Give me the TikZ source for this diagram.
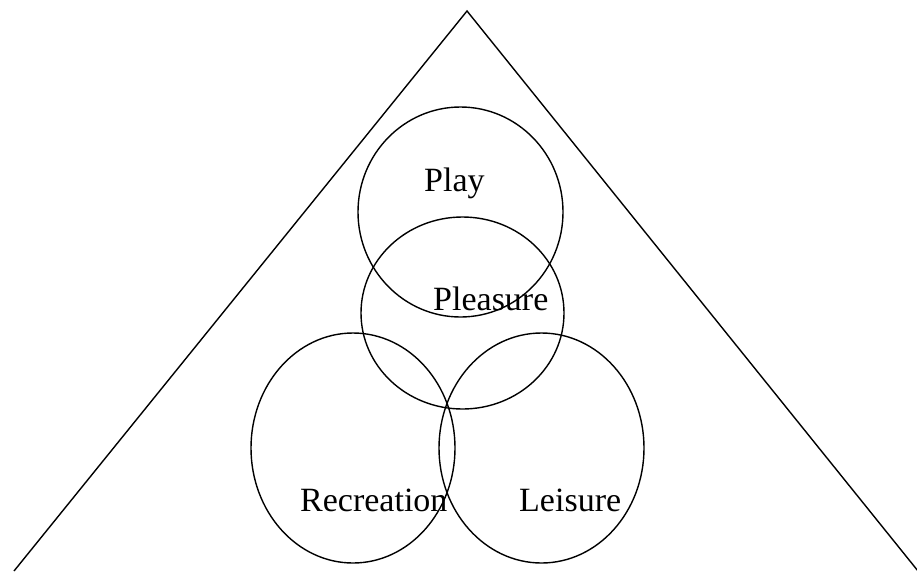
\documentclass[tikz,border=0pt]{standalone}
\usepackage{fontspec}
\setmainfont{Liberation Serif}
\usetikzlibrary{shapes.geometric}
\begin{document}
\begin{tikzpicture}[x=1pt,y=-1pt,
  ring/.style={draw,ellipse,line width=1.4pt,inner sep=0pt},
  lbl/.style={anchor=base west,inner sep=0pt,font=\fontsize{34}{40}\selectfont}]
\useasboundingbox (0,0) rectangle (917,571);
\begin{scope}
\clip (0,0) rectangle (917,571);
\coordinate (apex) at (467,11);
\coordinate (bl) at (14,571);
\coordinate (br) at (918,571);
\draw[line width=1.4pt,line join=miter] (bl) -- (apex) -- (br);
\end{scope}
\node[ring,minimum width=205pt,minimum height=210pt] (play) at (460.5,212) {};
\node[ring,minimum width=203pt,minimum height=192pt] (pleasure) at (462.5,313) {};
\node[ring,minimum width=204pt,minimum height=230pt] (recreation) at (353,448) {};
\node[ring,minimum width=205pt,minimum height=230pt] (leisure) at (541.5,448) {};
\node[lbl] (tplay) at (424,191) {Play};
\node[lbl] (tpleasure) at (433,310) {Pleasure};
\node[lbl] (trecreation) at (300,511) {Recreation};
\node[lbl] (tleisure) at (519,511) {Leisure};
\end{tikzpicture}
\end{document}
